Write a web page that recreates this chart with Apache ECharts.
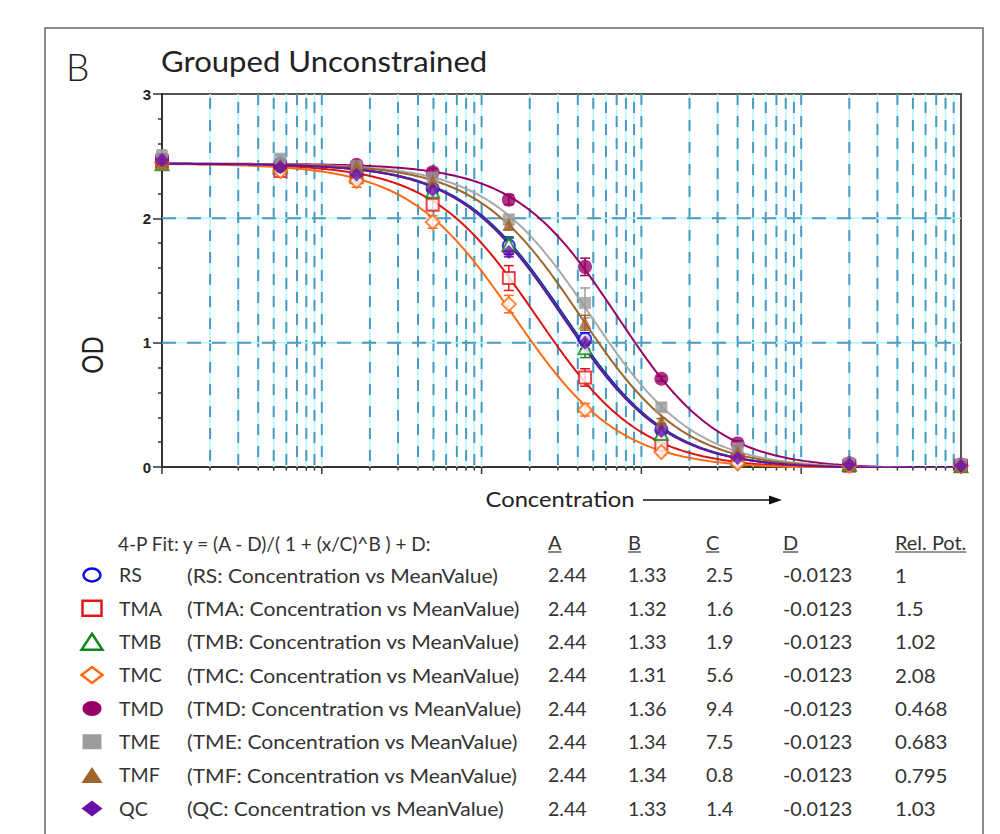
<!DOCTYPE html>
<html><head><meta charset="utf-8">
<script src="https://cdn.jsdelivr.net/npm/echarts@6/dist/echarts.min.js"></script>
<style>html,body{margin:0;padding:0;background:#fff;} #c{width:1000px;height:834px;}</style>
</head><body><div id="c"></div>
<script>
// ---------- data ----------
const concentrations = [1, 5.5, 16.5, 49.4, 148, 444, 1333, 4000, 20000, 100000];
const seriesNames = ['RS', 'TMA', 'TMB', 'TMC', 'TMD', 'TME', 'TMF', 'QC'];
const meanRS  = [2.47, 2.44, 2.36, 2.24, 1.78, 1.03, 0.30, 0.08, 0.02, 0.01];
const meanTMA = [2.46, 2.38, 2.33, 2.11, 1.52, 0.72, 0.18, 0.05, 0.01, 0.01];
const meanTMB = [2.44, 2.42, 2.35, 2.22, 1.79, 0.96, 0.27, 0.06, 0.02, 0.01];
const meanTMC = [2.45, 2.38, 2.30, 1.97, 1.31, 0.46, 0.12, 0.03, 0.01, 0.01];
const meanTMD = [2.47, 2.42, 2.43, 2.37, 2.15, 1.61, 0.71, 0.19, 0.03, 0.02];
const meanTME = [2.50, 2.48, 2.42, 2.33, 1.99, 1.32, 0.48, 0.15, 0.03, 0.02];
const meanTMF = [2.44, 2.43, 2.42, 2.30, 1.95, 1.16, 0.37, 0.12, 0.02, 0.01];
const meanQC  = [2.47, 2.41, 2.35, 2.23, 1.73, 1.00, 0.29, 0.07, 0.02, 0.01];
const errRS  = [0.04, 0.03, 0.03, 0.03, 0.07, 0.05, 0.02, 0.01, 0.01, 0.01];
const errTMA = [0.03, 0.03, 0.03, 0.04, 0.10, 0.07, 0.02, 0.01, 0.01, 0.01];
const errTMB = [0.03, 0.03, 0.04, 0.03, 0.05, 0.08, 0.02, 0.01, 0.01, 0.01];
const errTMC = [0.03, 0.03, 0.05, 0.05, 0.07, 0.05, 0.02, 0.01, 0.01, 0.01];
const errTMD = [0.03, 0.03, 0.03, 0.03, 0.04, 0.07, 0.02, 0.02, 0.01, 0.01];
const errTME = [0.05, 0.03, 0.03, 0.03, 0.04, 0.12, 0.03, 0.01, 0.01, 0.01];
const errTMF = [0.03, 0.03, 0.03, 0.03, 0.04, 0.06, 0.02, 0.01, 0.01, 0.01];
const errQC  = [0.05, 0.03, 0.03, 0.03, 0.04, 0.05, 0.02, 0.01, 0.01, 0.01];
// 4-P fit parameters (A, B, D from the table; midpoint estimated on the axis from the curves)
const fitA = [2.44, 2.44, 2.44, 2.44, 2.44, 2.44, 2.44, 2.44];
const fitB = [1.33, 1.32, 1.33, 1.31, 1.36, 1.34, 1.34, 1.33];
const fitD = [-0.0123, -0.0123, -0.0123, -0.0123, -0.0123, -0.0123, -0.0123, -0.0123];
const fitMid = [330, 220, 324, 159, 705, 483, 415, 320];
// table text
const tableA = ['2.44', '2.44', '2.44', '2.44', '2.44', '2.44', '2.44', '2.44'];
const tableB = ['1.33', '1.32', '1.33', '1.31', '1.36', '1.34', '1.34', '1.33'];
const tableC = ['2.5', '1.6', '1.9', '5.6', '9.4', '7.5', '0.8', '1.4'];
const tableD = ['-0.0123', '-0.0123', '-0.0123', '-0.0123', '-0.0123', '-0.0123', '-0.0123', '-0.0123'];
const relPot = ['1', '1.5', '1.02', '2.08', '0.468', '0.683', '0.795', '1.03'];
// axis ticks
const decades = [1, 10, 100, 1000, 10000, 100000];
const minorMultipliers = [2, 3, 4, 5, 6, 7, 8, 9];
const yGridValues = [1, 2];

// ---------- styles ----------
const colors = ['#0b0be6', '#e3161b', '#11861a', '#ff6a13', '#990066', '#9c9c9c', '#a0632b', '#6a0eaa'];
const curveColors = ['#1010e0', '#e01010', '#138a1a', '#ff6a13', '#990066', '#a9a9a9', '#a0632b', '#6a0eaa'];
const symbols = ['circle', 'rect', 'triangle', 'diamond', 'circle', 'rect', 'triangle', 'diamond'];
const hollow = [true, true, true, true, false, false, false, false];
const symSizes = [12, 12, 13, 14, 14, 12, 13, 14];
const FONT = 'Lato';

const means = [meanRS, meanTMA, meanTMB, meanTMC, meanTMD, meanTME, meanTMF, meanQC];
const errs = [errRS, errTMA, errTMB, errTMC, errTMD, errTME, errTMF, errQC];

const chart = echarts.init(document.getElementById('c'), null, {renderer: 'svg'});

// grid lines data
const vLines = [];
decades.forEach(d => {
  vLines.push([d, 1]);
  if (d < 100000) minorMultipliers.forEach(m => vLines.push([d * m, 0]));
});
const hLines = yGridValues.map(v => [1, v]);

function vGrid(params, api) {
  const v = api.value(0);
  const major = api.value(1) === 1;
  const top = api.coord([v, 3]);
  const bot = api.coord([v, 0]);
  const ch = [];
  if (v > 1 && v < 100000) {
    ch.push({type: 'line', shape: {x1: top[0], y1: top[1], x2: bot[0], y2: bot[1]},
      style: {stroke: '#b4f6fb', lineWidth: 1.5}});
    ch.push({type: 'line', shape: {x1: top[0], y1: top[1] + (params.dataIndex % 3) * 4, x2: bot[0], y2: bot[1]},
      style: {stroke: '#4a9ac0', lineWidth: 2, lineDash: [11, 11]}});
  }
  ch.push({type: 'line', shape: {x1: bot[0], y1: bot[1], x2: bot[0], y2: bot[1] + (major ? 7 : 3.5)},
    style: {stroke: '#333', lineWidth: 1.5}});
  return {type: 'group', children: ch};
}
function hGrid(params, api) {
  const v = api.value(1);
  const a = api.coord([1, v]);
  const b = api.coord([100000, v]);
  return {type: 'group', children: [
    {type: 'line', shape: {x1: a[0], y1: a[1], x2: b[0], y2: b[1]}, style: {stroke: '#b4f6fb', lineWidth: 1.5}},
    {type: 'line', shape: {x1: a[0], y1: a[1], x2: b[0], y2: b[1]}, style: {stroke: '#4a9ac0', lineWidth: 2, lineDash: [14, 11]}}
  ]};
}

const series = [
  {type: 'custom', name: 'vgrid', data: vLines, renderItem: vGrid, z: 1, silent: true, clip: false},
  {type: 'custom', name: 'hgrid', data: hLines, renderItem: hGrid, z: 1, silent: true}
];

// fitted curves
const nSample = 300;
seriesNames.forEach((name, i) => {
  const pts = [];
  for (let k = 0; k <= nSample; k++) {
    const x = Math.pow(10, 5 * k / nSample);
    const y = (fitA[i] - fitD[i]) / (1 + Math.pow(x / fitMid[i], fitB[i])) + fitD[i];
    pts.push([x, y]);
  }
  series.push({type: 'line', name: name + ' fit', data: pts, showSymbol: false, symbol: 'none',
    lineStyle: {color: curveColors[i], width: 2}, z: 2, silent: true, clip: true});
});
// error bars
seriesNames.forEach((name, i) => {
  const d = concentrations.map((c, k) => [c, means[i][k] - errs[i][k], means[i][k] + errs[i][k]]);
  series.push({type: 'custom', name: name + ' err', data: d, z: 3, silent: true,
    encode: {x: 0, y: [1, 2]},
    renderItem: (params, api) => {
      const x = api.value(0);
      const p1 = api.coord([x, api.value(2)]);
      const p2 = api.coord([x, api.value(1)]);
      const w = 5;
      const st = {stroke: colors[i], lineWidth: 1.5};
      return {type: 'group', children: [
        {type: 'line', shape: {x1: p1[0], y1: p1[1], x2: p2[0], y2: p2[1]}, style: st},
        {type: 'line', shape: {x1: p1[0] - w, y1: p1[1], x2: p1[0] + w, y2: p1[1]}, style: st},
        {type: 'line', shape: {x1: p2[0] - w, y1: p2[1], x2: p2[0] + w, y2: p2[1]}, style: st}
      ]};
    }});
});
// points
seriesNames.forEach((name, i) => {
  series.push({type: 'scatter', name: name, data: concentrations.map((c, k) => [c, means[i][k]]),
    symbol: symbols[i], symbolSize: symSizes[i], z: 4 + i * 0.01,
    itemStyle: hollow[i] ? {color: '#fff', borderColor: colors[i], borderWidth: 2} : {color: colors[i]}});
});

// ---------- graphic: frame, titles, table ----------
const mctx = document.createElement('canvas').getContext('2d');
function textW(t, font) { mctx.font = font; return mctx.measureText(t).width; }

const tFont = '19px ' + FONT;
const graphic = [
  {type: 'rect', shape: {x: 45, y: 28, width: 938, height: 830}, style: {fill: 'none', stroke: '#8c8c8c', lineWidth: 2}, z: 0},
  {type: 'text', x: 66, y: 66, style: {text: 'B', font: '300 37px ' + FONT, fill: '#222', verticalAlign: 'middle'}},
  {type: 'text', x: 161, y: 61, scaleX: 1.11, style: {text: 'Grouped Unconstrained', font: '28px ' + FONT, fill: '#222', verticalAlign: 'middle'}},
  {type: 'text', x: 92, y: 355, rotation: Math.PI / 2, scaleY: 1.17, style: {text: 'OD', font: '24px ' + FONT, fill: '#222', align: 'center', verticalAlign: 'middle'}},
  {type: 'text', x: 560, y: 499, scaleX: 1.13, style: {text: 'Concentration', font: '21px ' + FONT, fill: '#222', align: 'center', verticalAlign: 'middle'}},
  {type: 'line', shape: {x1: 643, y1: 500, x2: 772, y2: 500}, style: {stroke: '#111', lineWidth: 1.5}},
  {type: 'polygon', shape: {points: [[769, 495.5], [782, 500], [769, 504.5]]}, style: {fill: '#111'}}
];

const headerY = 543;
const rowY0 = 575, rowStep = 33.35;
const colX = {A: 548, B: 628, C: 706, D: 783, R: 895};
graphic.push({type: 'text', x: 118, y: headerY, style: {text: '4-P Fit: y = (A - D)/( 1 + (x/C)^B ) + D:', font: tFont, fill: '#333', verticalAlign: 'middle'}});
[['A', colX.A], ['B', colX.B], ['C', colX.C], ['D', colX.D], ['Rel. Pot.', colX.R]].forEach(([t, x]) => {
  graphic.push({type: 'text', x: x, y: headerY, scaleX: 1.05, style: {text: t, font: tFont, fill: '#333', verticalAlign: 'middle'}});
  const w = textW(t, tFont) * 1.05;
  graphic.push({type: 'line', shape: {x1: x, y1: headerY + 9, x2: x + w, y2: headerY + 9}, style: {stroke: '#333', lineWidth: 1.2}});
});

function markerShape(i, cx, cy) {
  const c = colors[i];
  const st = hollow[i] ? {fill: '#fff', stroke: c, lineWidth: 2.5} : {fill: c};
  const s = symbols[i];
  if (s === 'circle') return {type: 'ellipse', shape: {cx: cx, cy: cy, rx: hollow[i] ? 8.5 : 9.5, ry: hollow[i] ? 6.5 : 7.5}, style: st};
  if (s === 'rect') return {type: 'rect', shape: {x: cx - 9.5, y: cy - 7.5, width: 19, height: 15}, style: st};
  if (s === 'triangle') return {type: 'polygon', shape: {points: [[cx, cy - 8], [cx + 10.5, cy + 8], [cx - 10.5, cy + 8]]}, style: st};
  return {type: 'polygon', shape: {points: [[cx, cy - 8], [cx + 10.5, cy], [cx, cy + 8], [cx - 10.5, cy]]}, style: st};
}

seriesNames.forEach((name, i) => {
  const y = rowY0 + i * rowStep;
  graphic.push(markerShape(i, 92, y));
  const cells = [[name, 119, 1.03], ['(' + name + ': Concentration vs MeanValue)', 187, 1.11],
    [tableA[i], colX.A, 1.03], [tableB[i], colX.B, 1.03], [tableC[i], colX.C, 1.03], [tableD[i], colX.D, 1.04], [relPot[i], colX.R, 1.08]];
  cells.forEach(([t, x, sx]) => graphic.push({type: 'text', x: x, y: y, scaleX: sx, style: {text: t, font: tFont, fill: '#333', verticalAlign: 'middle'}}));
});

chart.setOption({
  animation: false,
  backgroundColor: '#fff',
  grid: {left: 162, right: 39, top: 94, bottom: 367, show: true, borderColor: '#555', borderWidth: 2, backgroundColor: 'transparent'},
  xAxis: {
    type: 'log', logBase: 10, min: 1, max: 100000,
    axisLine: {show: true, onZero: false, lineStyle: {color: '#333', width: 2}},
    axisTick: {show: false}, axisLabel: {show: false}, splitLine: {show: false}, minorTick: {show: false}
  },
  yAxis: {
    type: 'value', min: 0, max: 3, interval: 1,
    axisLine: {show: true, lineStyle: {color: '#333', width: 2}},
    axisTick: {show: true, length: 9, lineStyle: {color: '#333', width: 1.5}},
    minorTick: {show: true, splitNumber: 5, length: 4, lineStyle: {color: '#333', width: 1.5}},
    axisLabel: {fontSize: 15, fontWeight: 'bold', color: '#222', margin: 11, fontFamily: 'Liberation Sans'},
    splitLine: {show: false}
  },
  series: series,
  graphic: graphic
});
</script>
</body></html>
